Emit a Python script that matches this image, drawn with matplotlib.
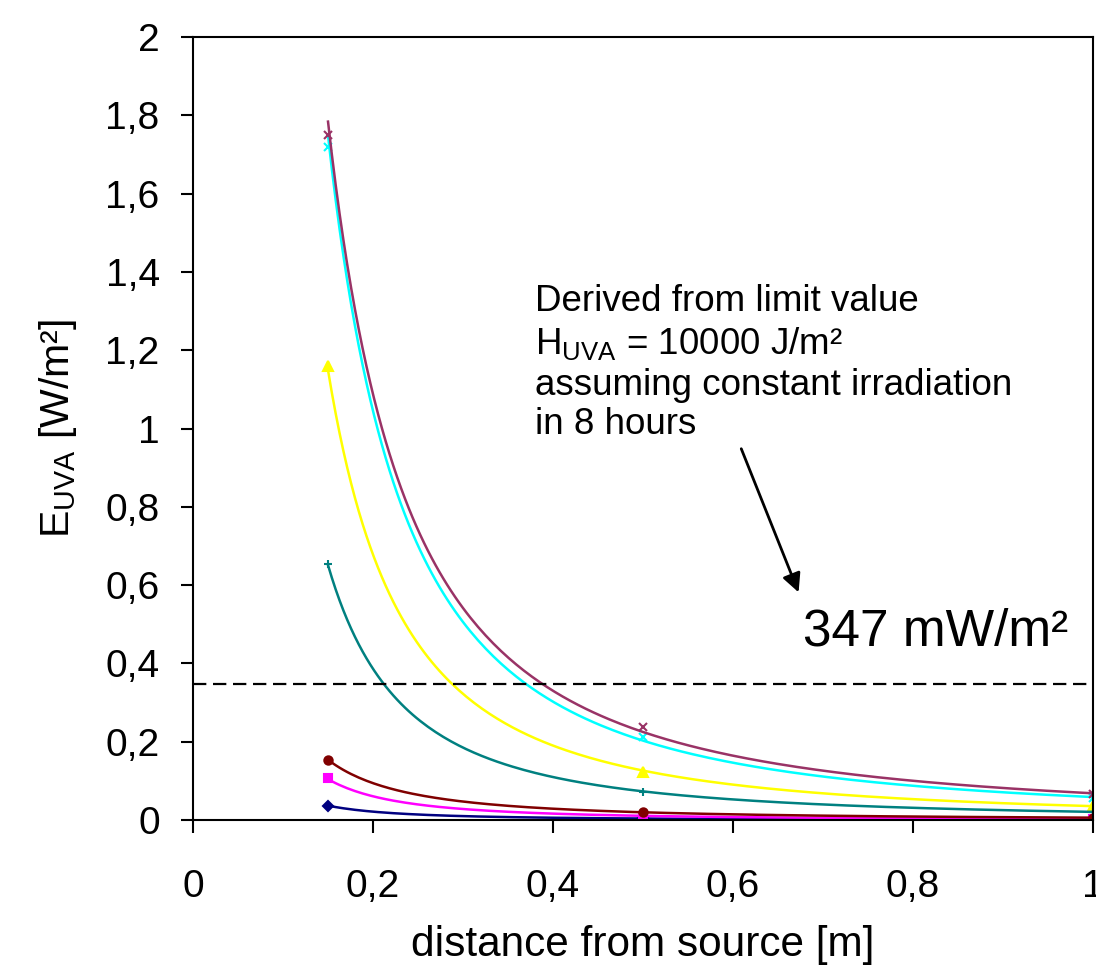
# UVA irradiance vs distance, with power trendlines like the Excel original

import numpy as np
import matplotlib
matplotlib.use("Agg")
import matplotlib.pyplot as plt
from matplotlib.ticker import FuncFormatter, MultipleLocator

plt.rcParams['font.family'] = ['Liberation Sans', 'DejaVu Sans']
plt.rcParams['mathtext.fontset'] = 'custom'
plt.rcParams['mathtext.rm'] = 'Liberation Sans'

# measured points (distance in m, irradiance in W/m²)
distance = [0.15, 0.5, 1.0]
navy = [0.036, 0.004, 0.001]
magenta = [0.107, 0.010, 0.003]
yellow = [1.16, 0.123, 0.036]
cyan = [1.72, 0.212, 0.057]
purple = [1.75, 0.237, 0.066]
darkred = [0.153, 0.020, 0.006]
teal = [0.655, 0.072, 0.021]

limit_value = 0.347

series = [
    (navy, '#000080', 'D', 5),
    (magenta, '#FF00FF', 's', 5.5),
    (yellow, '#FFFF00', '^', 7),
    (cyan, '#00FFFF', 'x', 5.5),
    (purple, '#993366', 'x', 5.5),
    (darkred, '#800000', 'o', 6),
    (teal, '#008080', '+', 6),
]

fig = plt.figure(figsize=(10.96, 9.67), dpi=100)
ax = fig.add_axes([0.1761, 0.152, 0.8212, 0.8097])

x = np.array(distance)
xs = np.linspace(0.15, 1.0, 200)
for vals, col, mk, ms in series:
    y = np.array(vals)
    # power trendline fitted in log-log space
    b, a = np.polyfit(np.log(x), np.log(y), 1)
    ax.plot(xs, np.exp(a) * xs ** b, color=col, lw=1.8)
    ax.plot(x, y, linestyle='none', marker=mk, ms=ms, color=col,
            markeredgewidth=1.5)

ax.axhline(limit_value, color='black', lw=1.6, dashes=(6, 3))

ax.set_xlim(0, 1)
ax.set_ylim(0, 2)
ax.xaxis.set_major_locator(MultipleLocator(0.2))
ax.yaxis.set_major_locator(MultipleLocator(0.2))
fmt = FuncFormatter(lambda v, p: ('%g' % round(v, 2)).replace('.', ','))
ax.xaxis.set_major_formatter(fmt)
ax.yaxis.set_major_formatter(fmt)
ax.tick_params(axis='both', direction='out', length=9, width=1.5,
               labelsize=28)
ax.tick_params(axis='y', pad=15)
ax.tick_params(axis='x', pad=26)
for s in ax.spines.values():
    s.set_linewidth(1.5)

ax.set_xlabel('distance from source [m]', fontsize=30.5, labelpad=15)
ax.set_ylabel(r'E$_{\mathregular{UVA}}$ [W/m²]', fontsize=29.5)
ax.yaxis.set_label_coords(-0.127, 0.5)

ax.text(0.38, 1.325, 'Derived from limit value', fontsize=26.5, va='center')
ax.text(0.38, 1.215, r'H$_{\mathregular{UVA}}$ = 10000 J/m²', fontsize=26.5, va='center')
ax.text(0.38, 1.11, 'assuming constant irradiation', fontsize=26.5, va='center')
ax.text(0.38, 1.01, 'in 8 hours', fontsize=26.5, va='center')
ax.annotate('', xy=(0.674, 0.575), xytext=(0.608, 0.955),
            arrowprops=dict(arrowstyle='-|>', color='black', lw=2,
                            mutation_scale=28))
ax.text(0.678, 0.48, '347 mW/m²', fontsize=37, va='center')

fig.savefig('out.png', dpi=100)
